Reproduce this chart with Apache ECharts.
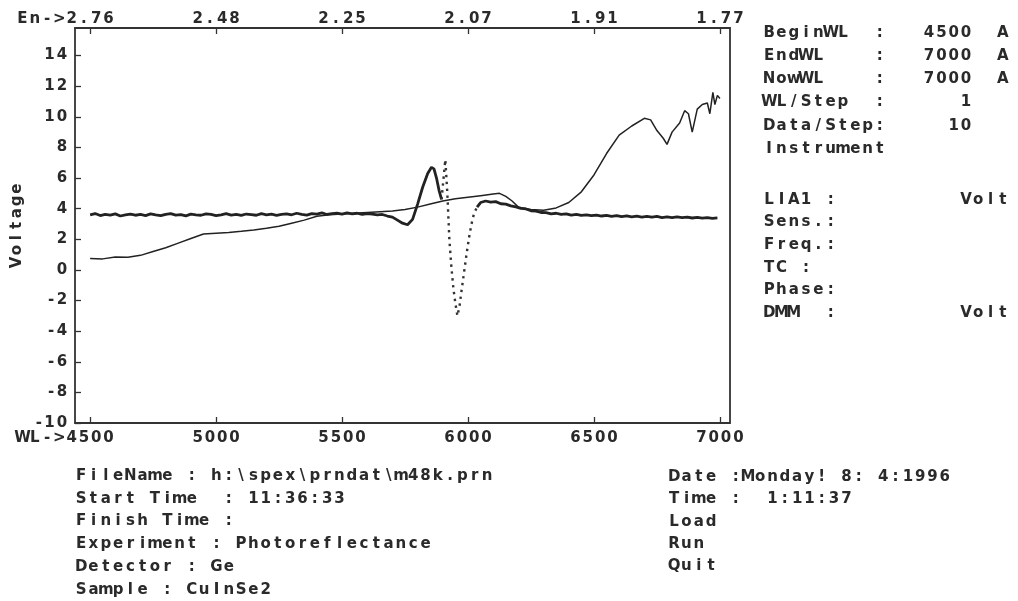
<!DOCTYPE html>
<html>
<head>
<meta charset="utf-8">
<title>Photoreflectance CuInSe2</title>
<script src="https://cdn.jsdelivr.net/npm/echarts@6/dist/echarts.min.js"></script>
<style>
  html, body { margin: 0; padding: 0; background: #fff; }
  #chart { width: 1018px; height: 601px; }
</style>
</head>
<body>
<div id="chart"></div>
<script>
// tick labels
const wlTicks = [4500, 5000, 5500, 6000, 6500, 7000];
const enLabels = ['2.76', '2.48', '2.25', '2.07', '1.91', '1.77'];
const voltTicks = [-10, -8, -6, -4, -2, 0, 2, 4, 6, 8, 10, 12, 14];

// smooth curve (reflectance)
const smWl = [4500, 4550, 4600, 4650, 4700, 4750, 4800, 4850, 4900, 4950, 5000, 5050, 5100, 5150, 5200, 5250,
  5300, 5350, 5400, 5450, 5500, 5550, 5600, 5650, 5700, 5750, 5800, 5850, 5900, 5950, 6000, 6050, 6100, 6125,
  6150, 6175, 6200, 6250, 6300, 6350, 6400, 6450, 6500, 6550, 6600, 6650, 6700, 6725, 6750, 6775, 6790, 6810,
  6840, 6860, 6875, 6890, 6910, 6930, 6950, 6960, 6972, 6980, 6990, 7000];
const smV = [0.75, 0.72, 0.85, 0.82, 0.95, 1.2, 1.45, 1.75, 2.05, 2.35, 2.4, 2.45, 2.52, 2.6, 2.72, 2.85,
  3.05, 3.25, 3.5, 3.6, 3.65, 3.7, 3.75, 3.8, 3.85, 3.95, 4.1, 4.3, 4.5, 4.65, 4.75, 4.85, 4.95, 5.0,
  4.8, 4.5, 4.1, 3.95, 3.9, 4.05, 4.4, 5.1, 6.2, 7.6, 8.8, 9.4, 9.9, 9.8, 9.1, 8.6, 8.2, 9.0,
  9.6, 10.4, 10.2, 9.0, 10.5, 10.8, 10.9, 10.2, 11.6, 10.8, 11.4, 11.2];

// PR signal, part before the fast swing
const prWlA = [4500, 4520, 4540, 4560, 4580, 4600, 4620, 4640, 4660, 4680,
  4700, 4720, 4740, 4760, 4780, 4800, 4820, 4840, 4860, 4880,
  4900, 4920, 4940, 4960, 4980, 5000, 5020, 5040, 5060, 5080,
  5100, 5120, 5140, 5160, 5180, 5200, 5220, 5240, 5260, 5280,
  5300, 5320, 5340, 5360, 5380, 5400, 5420, 5440, 5460, 5480,
  5500, 5520, 5540, 5560, 5580, 5600, 5620, 5640, 5660, 5680,
  5700, 5720, 5740, 5760, 5780, 5800, 5820, 5840, 5855, 5865, 5875, 5885, 5895];
const prVA = [3.60, 3.68, 3.55, 3.62, 3.58, 3.66, 3.52, 3.60, 3.64, 3.57,
  3.62, 3.55, 3.66, 3.59, 3.54, 3.63, 3.68, 3.58, 3.61, 3.53,
  3.64, 3.60, 3.57, 3.66, 3.62, 3.55, 3.60, 3.67, 3.58, 3.63,
  3.56, 3.65, 3.61, 3.57, 3.68, 3.60, 3.64, 3.56, 3.62, 3.66,
  3.60, 3.70, 3.63, 3.58, 3.68, 3.64, 3.72, 3.62, 3.67, 3.70,
  3.64, 3.72, 3.66, 3.70, 3.62, 3.68, 3.64, 3.60, 3.62, 3.52,
  3.45, 3.25, 3.05, 2.95, 3.30, 4.30, 5.40, 6.30, 6.70, 6.60, 6.00, 5.20, 4.60];
// fast swing, drawn as sparse dots
const prWlB = [5895, 5903, 5910, 5918, 5926, 5934, 5942, 5950, 5958, 5966, 5974, 5984, 5994, 6004, 6014, 6024, 6036];
const prVB = [4.6, 6.0, 7.2, 5.0, 2.0, 0.2, -1.2, -2.2, -3.0, -2.4, -1.4, -0.2, 1.0, 2.1, 3.0, 3.7, 4.1];
// after the swing
const prWlC = [6036, 6050, 6070, 6090, 6110, 6130, 6150, 6170, 6190, 6210, 6230, 6250, 6270, 6290,
  6310, 6330, 6350, 6370, 6390, 6410, 6430, 6450, 6470, 6490,
  6510, 6530, 6550, 6570, 6590, 6610, 6630, 6650, 6670, 6690,
  6710, 6730, 6750, 6770, 6790, 6810, 6830, 6850, 6870, 6890,
  6910, 6930, 6950, 6970, 6990];
const prVC = [4.1, 4.4, 4.5, 4.42, 4.46, 4.32, 4.3, 4.18, 4.12, 4.02, 3.98, 3.86, 3.84, 3.75,
  3.74, 3.66, 3.70, 3.62, 3.66, 3.58, 3.63, 3.56, 3.60, 3.54,
  3.58, 3.52, 3.56, 3.50, 3.55, 3.48, 3.53, 3.47, 3.51, 3.45,
  3.50, 3.44, 3.49, 3.42, 3.47, 3.41, 3.46, 3.42, 3.45, 3.39,
  3.43, 3.38, 3.42, 3.37, 3.40];

// instrument panel texts
const sideLines = ['BeginWL  :   4500  A', 'EndWL    :   7000  A', 'NowWL    :   7000  A',
  'WL/Step  :      1', 'Data/Step:     10', 'Instrument'];
const sideLines2 = ['LIA1 :          Volt', 'Sens.:', 'Freq.:', 'TC :', 'Phase:', 'DMM  :          Volt'];
const infoLines = ['FileName : h:\\spex\\prndat\\m48k.prn', 'Start Time  : 11:36:33', 'Finish Time :',
  'Experiment : Photoreflectance', 'Detector : Ge', 'Sample : CuInSe2'];
const menuLines = ['Date :Monday! 8: 4:1996', 'Time :  1:11:37', 'Load', 'Run', 'Quit'];

const CELL = 12.3;
const INK = '#2a2a2a';
const cellStyle = { width: CELL, align: 'center', fontFamily: 'DejaVu Sans', fontWeight: 'bold', fontSize: 15, color: INK };
const minusStyle = Object.assign({}, cellStyle, { width: 9 });

// each character in its own fixed-width cell, like the DOS screen font
function cells(str) {
  return str.split('').map(ch => '{c|' + ch + '}').join('');
}

function zip(xs, ys) {
  return xs.map((x, i) => [x, ys[i]]);
}

function panelText(lines, x, y0, step) {
  return lines.map((t, i) => ({
    type: 'text',
    x: x,
    y: y0 + i * step,
    silent: true,
    style: {
      text: cells(t),
      rich: { c: Object.assign({}, cellStyle, { fill: INK }) },
      fill: INK,
      verticalAlign: 'middle',
      align: 'left'
    }
  }));
}

const chart = echarts.init(document.getElementById('chart'), null, { renderer: 'canvas' });

const axisLineStyle = { color: '#333', width: 1.8 };
const tickStyle = { color: '#333', width: 1.3 };

const option = {
  backgroundColor: '#ffffff',
  animation: false,
  grid: { left: 75, top: 28, width: 655, height: 395 },
  xAxis: [
    {
      type: 'value',
      position: 'bottom',
      min: 4440,
      max: 7040,
      axisLine: { show: true, onZero: false, lineStyle: axisLineStyle },
      axisTick: { show: true, inside: true, length: 6, customValues: wlTicks, lineStyle: tickStyle },
      splitLine: { show: false },
      axisLabel: {
        customValues: wlTicks,
        margin: 8,
        formatter: function (v) {
          if (v === wlTicks[0]) return cells('WL->' + v) + '{s| }';
          return cells(String(v));
        },
        rich: { c: cellStyle, s: { width: CELL * 4 } }
      }
    },
    {
      type: 'value',
      position: 'top',
      min: 4440,
      max: 7040,
      axisLine: { show: true, onZero: false, lineStyle: axisLineStyle },
      axisTick: { show: true, inside: true, length: 6, customValues: wlTicks, lineStyle: tickStyle },
      splitLine: { show: false },
      axisLabel: {
        customValues: wlTicks,
        margin: 1,
        formatter: function (v) {
          const i = wlTicks.indexOf(v);
          if (i === 0) return cells('En->' + enLabels[0]) + '{s| }';
          return cells(enLabels[i]);
        },
        rich: { c: cellStyle, s: { width: CELL * 4 } }
      }
    }
  ],
  yAxis: [
    {
      type: 'value',
      position: 'left',
      min: -10,
      max: 15.8,
      name: cells('Voltage'),
      nameLocation: 'middle',
      nameRotate: 90,
      nameGap: 38,
      nameTextStyle: { rich: { c: cellStyle } },
      axisLine: { show: true, onZero: false, lineStyle: axisLineStyle },
      axisTick: { show: true, inside: true, length: 6, customValues: voltTicks, lineStyle: tickStyle },
      splitLine: { show: false },
      axisLabel: {
        customValues: voltTicks,
        margin: 7,
        formatter: function (v) {
          return String(v).split('').map(ch => (ch === '-' ? '{m|-}' : '{c|' + ch + '}')).join('');
        },
        rich: { c: cellStyle, m: minusStyle }
      }
    },
    {
      type: 'value',
      position: 'right',
      min: -10,
      max: 15.8,
      axisLine: { show: true, onZero: false, lineStyle: axisLineStyle },
      axisTick: { show: false },
      axisLabel: { show: false },
      splitLine: { show: false }
    }
  ],
  graphic: [].concat(
    panelText(sideLines, 763, 33, 23.2),
    panelText(sideLines2, 763, 200, 22.6),
    panelText(infoLines, 75, 476, 22.8),
    panelText(menuLines, 668, 477, 22.4)
  ),
  series: [
    {
      name: 'reflectance',
      type: 'line',
      data: zip(smWl, smV),
      showSymbol: false,
      silent: true,
      lineStyle: { color: '#222', width: 1.5 }
    },
    {
      name: 'PR',
      type: 'line',
      data: zip(prWlA, prVA),
      showSymbol: false,
      silent: true,
      lineStyle: { color: '#222', width: 2.8 }
    },
    {
      name: 'PR swing',
      type: 'line',
      data: zip(prWlB, prVB),
      showSymbol: false,
      silent: true,
      lineStyle: { color: '#333', width: 2.4, type: [2.4, 4.5] }
    },
    {
      name: 'PR tail',
      type: 'line',
      data: zip(prWlC, prVC),
      showSymbol: false,
      silent: true,
      lineStyle: { color: '#222', width: 2.8 }
    }
  ]
};

chart.setOption(option);
</script>
</body>
</html>
